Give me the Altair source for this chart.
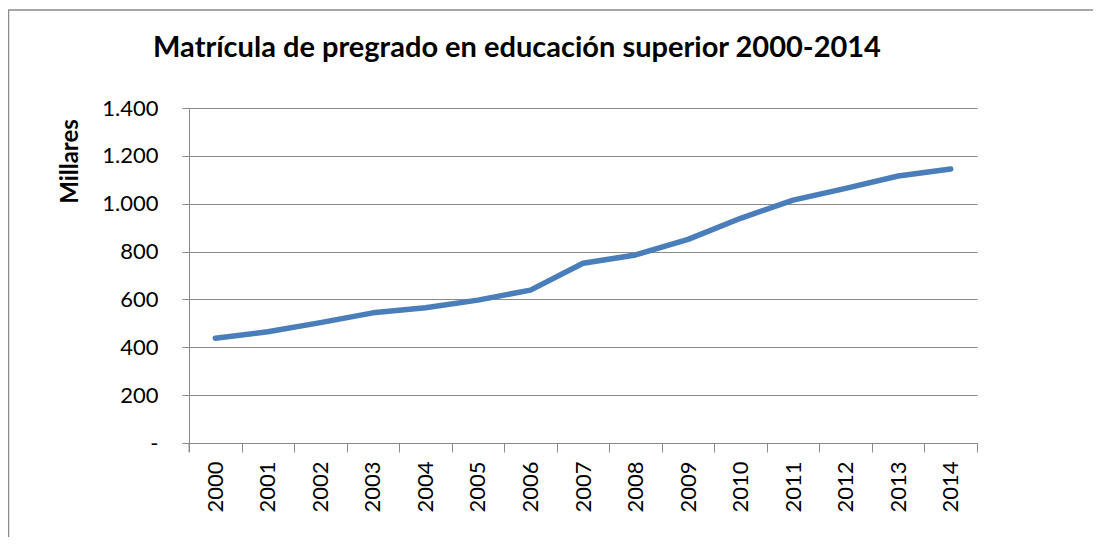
import altair as alt
import pandas as pd

years = [str(y) for y in range(2000, 2015)]
matricula = [438, 465, 503, 544, 565, 597, 639, 751, 786, 851, 939, 1015, 1064, 1116, 1145]
y_ticks = [0, 200, 400, 600, 800, 1000, 1200, 1400]
title_text = ["Matrícula de pregrado en educación superior 2000-2014"]

df = pd.DataFrame({"year": years, "value": matricula})

FONT = "Lato"
GRAY = "#8a8a8a"

line = alt.Chart(df).mark_line(color="#4a7ebb", strokeWidth=5.5, strokeCap="round", strokeJoin="round").encode(
    x=alt.X("year:O", bandPosition=0.5,
            scale=alt.Scale(type="band", paddingInner=0, paddingOuter=0),
            axis=alt.Axis(title=None, tickBand="extent", labelAngle=270, labelAlign="right",
                          labelBaseline="middle", labelPadding=9, tickSize=9, grid=False,
                          labelFontSize=22, labelFont=FONT, labelColor="black",
                          domainColor=GRAY, tickColor=GRAY)),
    y=alt.Y("value:Q", scale=alt.Scale(domain=[0, 1400], nice=False),
            axis=alt.Axis(title="Millares", values=y_ticks,
                          labelExpr="datum.value == 0 ? '-' : replace(format(datum.value, ',d'), ',', '.')",
                          labelFontSize=22, labelFont=FONT, labelColor="black", labelPadding=24,
                          tickSize=7, grid=True, gridColor=GRAY, gridWidth=1,
                          domainColor=GRAY, tickColor=GRAY,
                          titleFont=FONT, titleFontSize=24, titleFontWeight="bold", titleColor="black",
                          titleAngle=270, titleAlign="center", titleBaseline="middle",
                          titleX=-119, titleY=53)),
)

frame = alt.Chart(alt.Data(values=[{}])).mark_rect(fill=None, stroke=GRAY, strokeWidth=1.5).encode(
    x=alt.value(-180.5), x2=alt.value(1200), y=alt.value(-98), y2=alt.value(700)
)

axis_ext = alt.Chart(alt.Data(values=[{}])).mark_rule(color=GRAY, strokeWidth=1).encode(
    x=alt.value(0), y=alt.value(335), y2=alt.value(344)
)

title = alt.Chart(pd.DataFrame({"t": title_text})).mark_text(
    font=FONT, fontSize=29, fontWeight="bold", color="black", align="center", baseline="alphabetic"
).encode(text="t:N", x=alt.value(328), y=alt.value(-51))

chart = alt.layer(frame, axis_ext, line, title).properties(
    width=788, height=335,
    autosize=alt.AutoSizeParams(type="none"),
    padding={"left": 181, "top": 100, "right": 116, "bottom": 94},
).configure_view(stroke=None)

chart.save("out.html", embed_options={"renderer": "svg", "actions": False})
